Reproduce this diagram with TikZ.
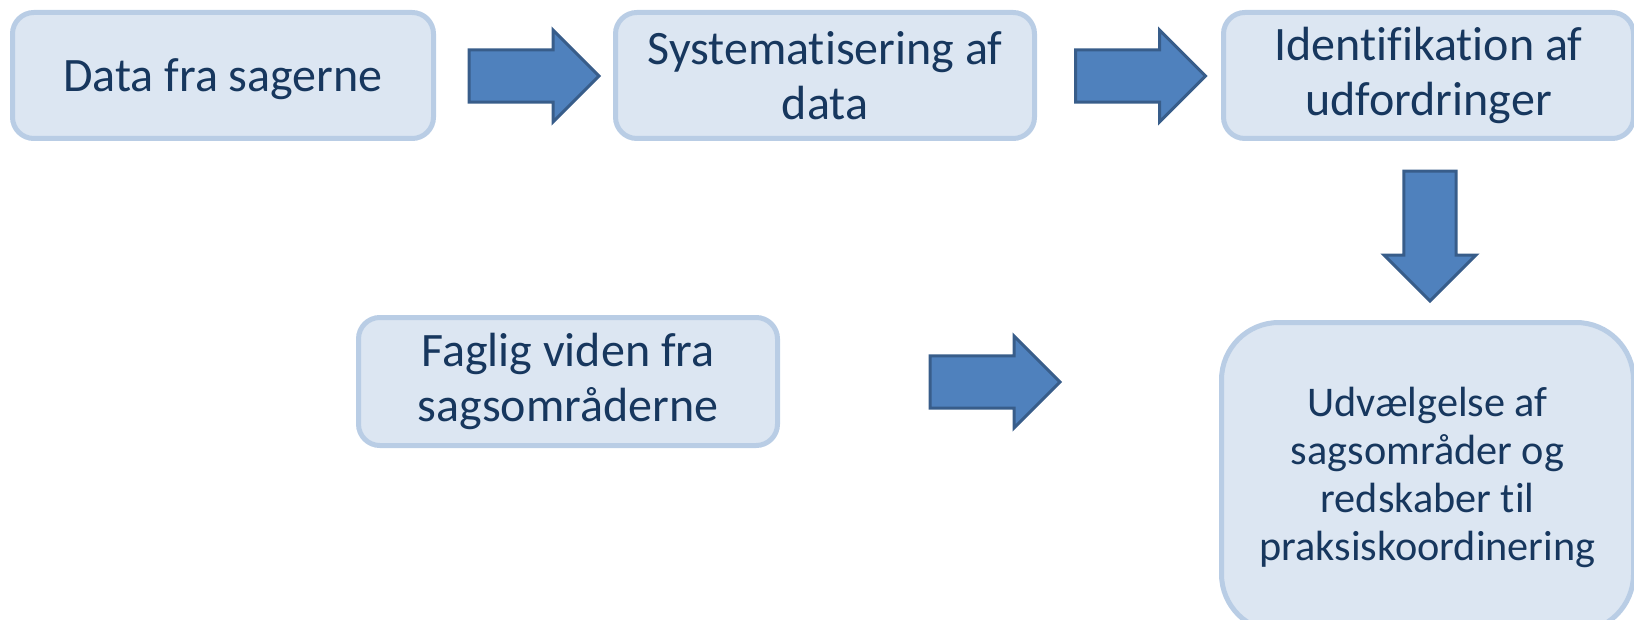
\documentclass[tikz,border=0pt]{standalone}
\usepackage{fontspec}
\setmainfont{Carlito}[Ligatures=NoCommon]
\usetikzlibrary{shapes.arrows}

\definecolor{boxfill}{HTML}{DCE6F2}
\definecolor{boxline}{HTML}{B9CDE5}
\definecolor{boxtext}{HTML}{17375E}
\definecolor{arrfill}{HTML}{4F81BD}
\definecolor{arrline}{HTML}{385D8A}

\tikzset{
  stepbox/.style={draw=boxline, fill=boxfill, line width=3.75pt, rounded corners=16pt,
    text=boxtext, align=center, inner sep=0pt, font=\fontsize{36}{41}\selectfont},
  bigarrow/.style={single arrow, draw=arrline, fill=arrfill, line width=2.25pt,
    minimum height=97.5pt, single arrow head extend=14.9pt,
    single arrow tip angle=90, inner sep=0pt, inner ysep=18.4pt}
}

\begin{document}
\begin{tikzpicture}[x=0.75pt,y=0.75pt,yscale=-1,xscale=1]
\clip (0,0) rectangle (1634,620);
\useasboundingbox (0,0) rectangle (1634,620);

% Text Node
\node[stepbox, minimum width=315.75pt, minimum height=94.5pt, text depth=0pt] (databox) at (223,75.5) {Data fra sagerne};
% Text Node
\node[stepbox, minimum width=314.25pt, minimum height=94.5pt] (systbox) at (825,75.5) {Systematisering af\\data};
% Text Node
\node[stepbox, minimum width=307.5pt, minimum height=94.5pt] (identbox) at (1428.5,75.5) {Identifikation af\\udfordringer};
% Text Node
\node[stepbox, minimum width=314.25pt, minimum height=96pt] (fagbox) at (568,381.5) {Faglig viden fra\\sagsområderne};
% Text Node
\node[stepbox, minimum width=309pt, minimum height=231.75pt, rounded corners=43pt,
  font=\fontsize{31.7}{36}\selectfont] (udvbox) at (1427.5,477) {Udvælgelse af\\sagsområder og\\redskaber til\\praksiskoordinering};

% Connection
\node[bigarrow] (arrdata) at (521,76) {};
% Connection
\node[bigarrow] (arrsyst) at (1127.5,76) {};
% Connection
\node[bigarrow, rotate=-90] (arrident) at (1430,223) {};
% Connection
\node[bigarrow] (arrfag) at (982,382) {};

\end{tikzpicture}
\end{document}
